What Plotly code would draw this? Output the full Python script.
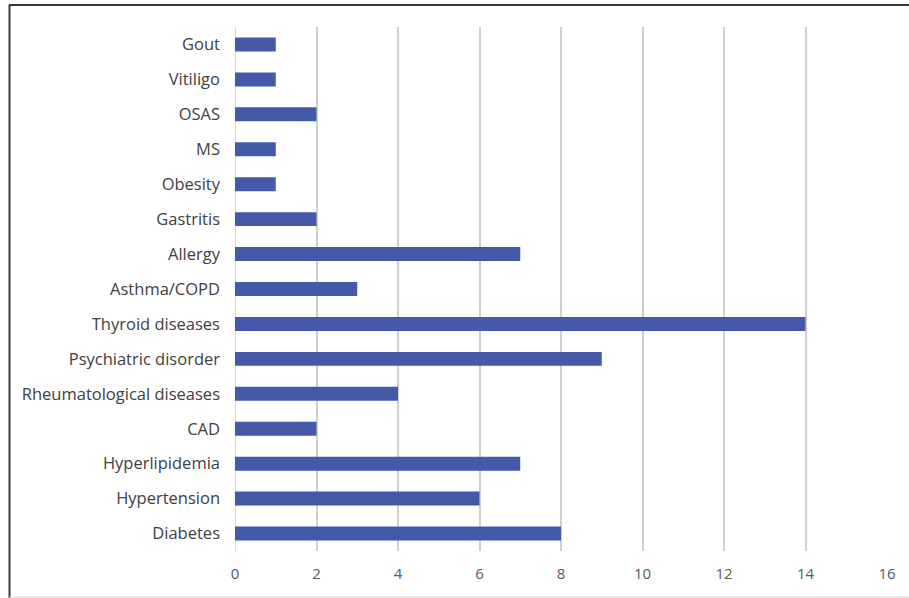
import plotly.graph_objects as go

categories = ["Diabetes", "Hypertension", "Hyperlipidemia", "CAD", "Rheumatological diseases",
              "Psychiatric disorder", "Thyroid diseases", "Asthma/COPD", "Allergy", "Gastritis",
              "Obesity", "MS", "OSAS", "Vitiligo", "Gout"]
values = [8, 6, 7, 2, 4, 9, 14, 3, 7, 2, 1, 1, 2, 1, 1]
x_ticks = [0, 2, 4, 6, 8, 10, 12, 14, 16]

fig = go.Figure(go.Bar(
    x=values, y=categories, orientation="h",
    marker=dict(color="#4459A8", line=dict(width=0)),
    width=0.4,
))

W, H = 909, 598
L, R, T, B = 235, 22, 27, 47
pw, ph = W - L - R, H - T - B

def px_x(p):
    return (p - L) / pw

def px_y(p):
    return (H - B - p) / ph

fig.update_layout(
    width=W, height=H,
    margin=dict(l=L, r=R, t=T, b=B),
    paper_bgcolor="white", plot_bgcolor="white",
    font=dict(family="Open Sans", size=16, color="#595959"),
    showlegend=False,
    xaxis=dict(range=[0, 16], tickvals=x_ticks, showgrid=True, gridcolor="#D0D0D0",
               gridwidth=1.5, zeroline=False,
               showline=False, ticks="", ticklabelstandoff=12,
               tickfont=dict(size=15, color="#595959")),
    yaxis=dict(categoryorder="array", categoryarray=categories, showgrid=False,
               zeroline=False, showline=False, ticks="", ticklabelstandoff=14,
               tickfont=dict(size=16.5, color="#404040")),
    shapes=[
        dict(type="line", xref="x", yref="paper", x0=x_ticks[0], x1=x_ticks[0],
             y0=0, y1=1, layer="below", line=dict(color="#D0D0D0", width=1.5)),
        dict(type="line", xref="paper", yref="paper", x0=px_x(9), x1=px_x(909),
             y0=px_y(5), y1=px_y(5), line=dict(color="#3A3A3A", width=2)),
        dict(type="line", xref="paper", yref="paper", x0=px_x(9.5), x1=px_x(9.5),
             y0=px_y(5), y1=px_y(598), line=dict(color="#3A3A3A", width=2)),
        dict(type="line", xref="paper", yref="paper", x0=px_x(9), x1=px_x(909),
             y0=px_y(597), y1=px_y(597), line=dict(color="#D8D8D8", width=1)),
    ],
)

fig.write_html("out.html")
